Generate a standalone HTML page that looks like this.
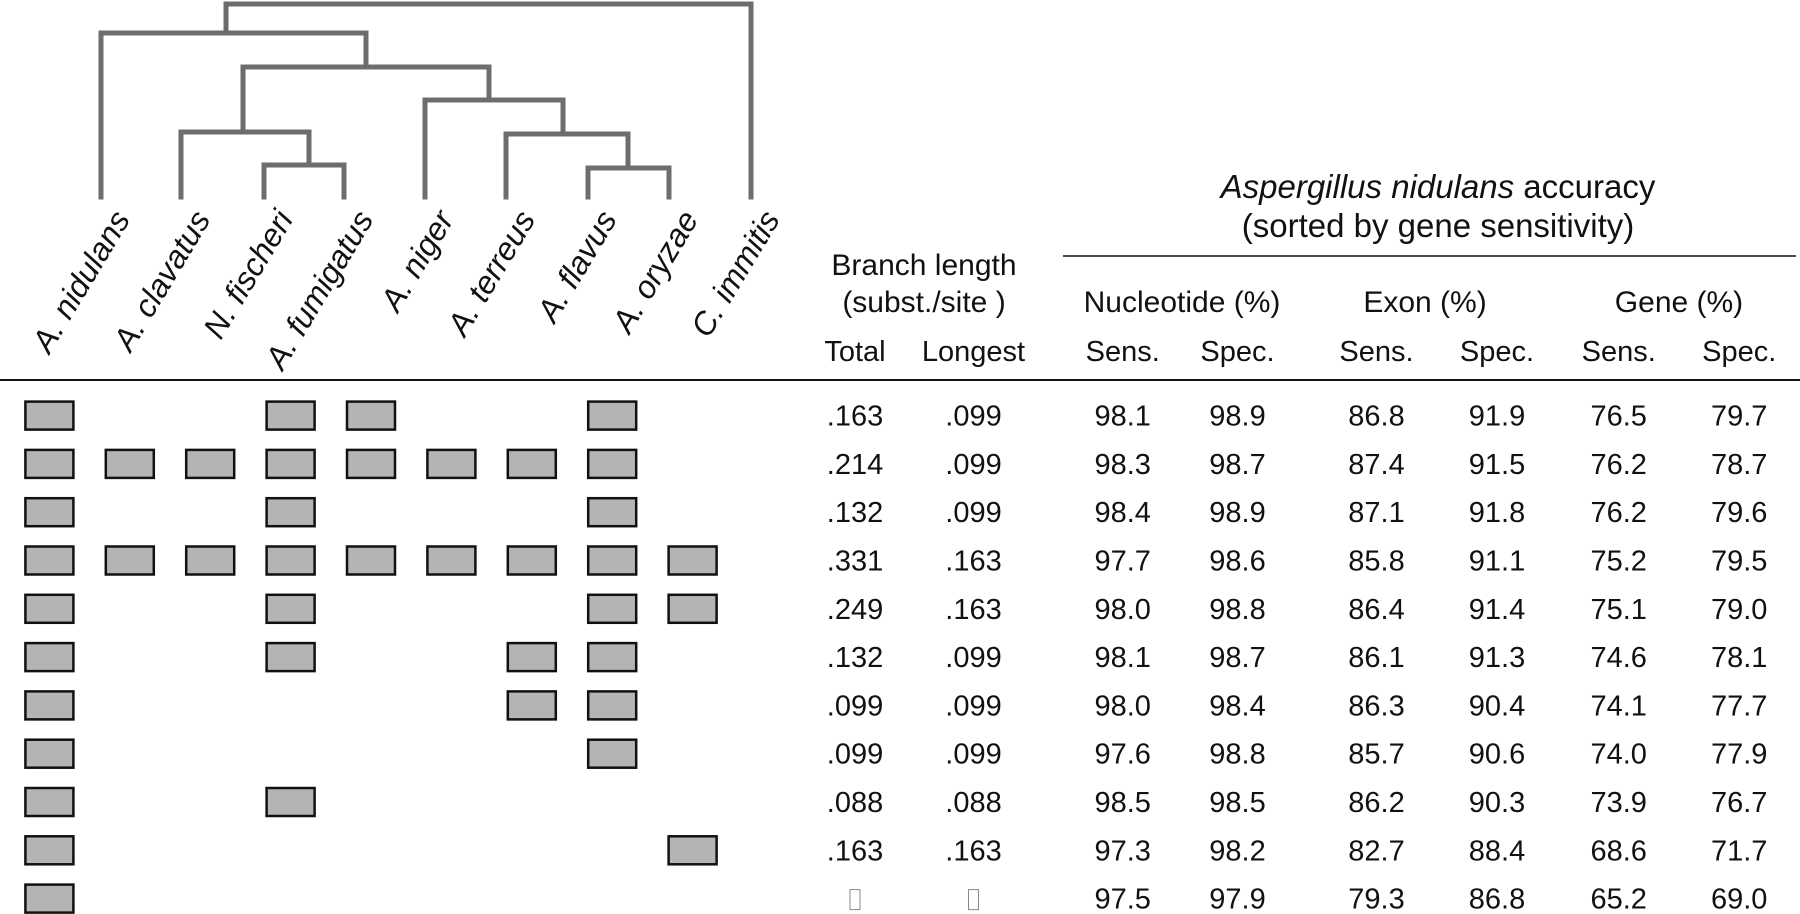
<!DOCTYPE html>
<html><head><meta charset="utf-8">
<style>
body{margin:0;background:#fff;width:1800px;height:914px;overflow:hidden;font-family:"Liberation Sans",sans-serif;color:#111}
svg{display:block}
</style></head>
<body>
<svg id="fig" width="1800" height="914" xmlns="http://www.w3.org/2000/svg">
  <g id="tree" fill="none" stroke="#6d6d6d" stroke-width="5" stroke-linecap="square"></g>
  <g id="labels"></g>
  <g id="header" font-size="30" text-anchor="middle" fill="#111">
    <text x="1438" y="198" font-size="33"><tspan font-style="italic">Aspergillus nidulans</tspan> accuracy</text>
    <text x="1438" y="237" font-size="33">(sorted by gene sensitivity)</text>
    <line x1="1063" y1="256" x2="1796" y2="256" stroke="#111" stroke-width="1.5"/>
    <text x="924" y="275">Branch length</text>
    <text x="924" y="312">(subst./site )</text>
    <text x="1182" y="312">Nucleotide (%)</text>
    <text x="1425" y="312">Exon (%)</text>
    <text x="1679" y="312">Gene (%)</text>
    <line x1="0" y1="380" x2="1800" y2="380" stroke="#111" stroke-width="2"/>
  </g>
  <g id="cols" font-size="29" text-anchor="middle" fill="#111"></g>
  <g id="rows" font-size="29" text-anchor="middle" fill="#111"></g>
</svg>
<script>
const species = ["A. nidulans","A. clavatus","N. fischeri","A. fumigatus","A. niger","A. terreus","A. flavus","A. oryzae","C. immitis"];
const colHeaders = ["Total","Longest","Sens.","Spec.","Sens.","Spec.","Sens.","Spec."];
const presence = [
 [0,3,4,7],[0,1,2,3,4,5,6,7],[0,3,7],[0,1,2,3,4,5,6,7,8],[0,3,7,8],
 [0,3,6,7],[0,6,7],[0,7],[0,3],[0,8],[0]
];
const totalLen = [".163",".214",".132",".331",".249",".132",".099",".099",".088",".163",""];
const longestLen = [".099",".099",".099",".163",".163",".099",".099",".099",".088",".163",""];
const nucSens = ["98.1","98.3","98.4","97.7","98.0","98.1","98.0","97.6","98.5","97.3","97.5"];
const nucSpec = ["98.9","98.7","98.9","98.6","98.8","98.7","98.4","98.8","98.5","98.2","97.9"];
const exonSens = ["86.8","87.4","87.1","85.8","86.4","86.1","86.3","85.7","86.2","82.7","79.3"];
const exonSpec = ["91.9","91.5","91.8","91.1","91.4","91.3","90.4","90.6","90.3","88.4","86.8"];
const geneSens = ["76.5","76.2","76.2","75.2","75.1","74.6","74.1","74.0","73.9","68.6","65.2"];
const geneSpec = ["79.7","78.7","79.6","79.5","79.0","78.1","77.7","77.9","76.7","71.7","69.0"];

const NS="http://www.w3.org/2000/svg";
function mk(tag,attrs,parent){const e=document.createElementNS(NS,tag);for(const k in attrs)e.setAttribute(k,attrs[k]);parent.appendChild(e);return e;}
const colX=[855,973.5,1122.7,1237.5,1376.5,1497,1618.7,1739.2];
const rowY=i=>415.6+i*48.3;
const boxX=j=>49.4+j*80.4;
const leafX=[101,181.4,264,344.4,424.8,506.3,587.8,669.3,750.8];

const tree=document.getElementById('tree');
const segs=[
 "M101,197 V33 H366 V67",
 "M226,33 V4 H751 V197",
 "M243,67 H489 V100",
 "M243,67 V132 H181 V197",
 "M181,132 H309 V165",
 "M264,197 V165 H344 V197",
 "M425,197 V100 H563 V134",
 "M506,197 V134 H628 V168",
 "M588,197 V168 H669 V197"
];
segs.forEach((d,i)=>{const p=mk('path',{d},tree);

});

const lab=document.getElementById('labels');
species.forEach((s,j)=>{
 const x=leafX[j]+30, y=219;
 const t=mk('text',{x:x,y:y,'font-size':32,'font-style':'italic','text-anchor':'end',fill:'#111',transform:`rotate(-59 ${x} ${y})`},lab);
 
 
 t.textContent=s;
});

const cols=document.getElementById('cols');
colHeaders.forEach((h,k)=>{const t=mk('text',{x:colX[k],y:361},cols);
 
 
 t.textContent=h;});

const rows=document.getElementById('rows');
const valueCols=[totalLen,longestLen,nucSens,nucSpec,exonSens,exonSpec,geneSens,geneSpec];
presence.forEach((pr,i)=>{
 const g=mk('g',{},rows);
 
 
 const y=rowY(i);
 pr.forEach(j=>{
  const r=mk('rect',{x:boxX(j)-24,y:y-14,width:48,height:28,fill:'#b4b4b4',stroke:'#111','stroke-width':2.5},g);
  
  
 });
 valueCols.forEach((arr,k)=>{
  if(arr[i]===""){
   const r=mk('rect',{x:colX[k]-5,y:y-9,width:10,height:20,fill:'none',stroke:'#888','stroke-width':1},g);
   
   
  } else {
   const t=mk('text',{x:colX[k],y:y+10},g);
   
   
   t.textContent=arr[i];
  }
 });
});
</script>
</body></html>
